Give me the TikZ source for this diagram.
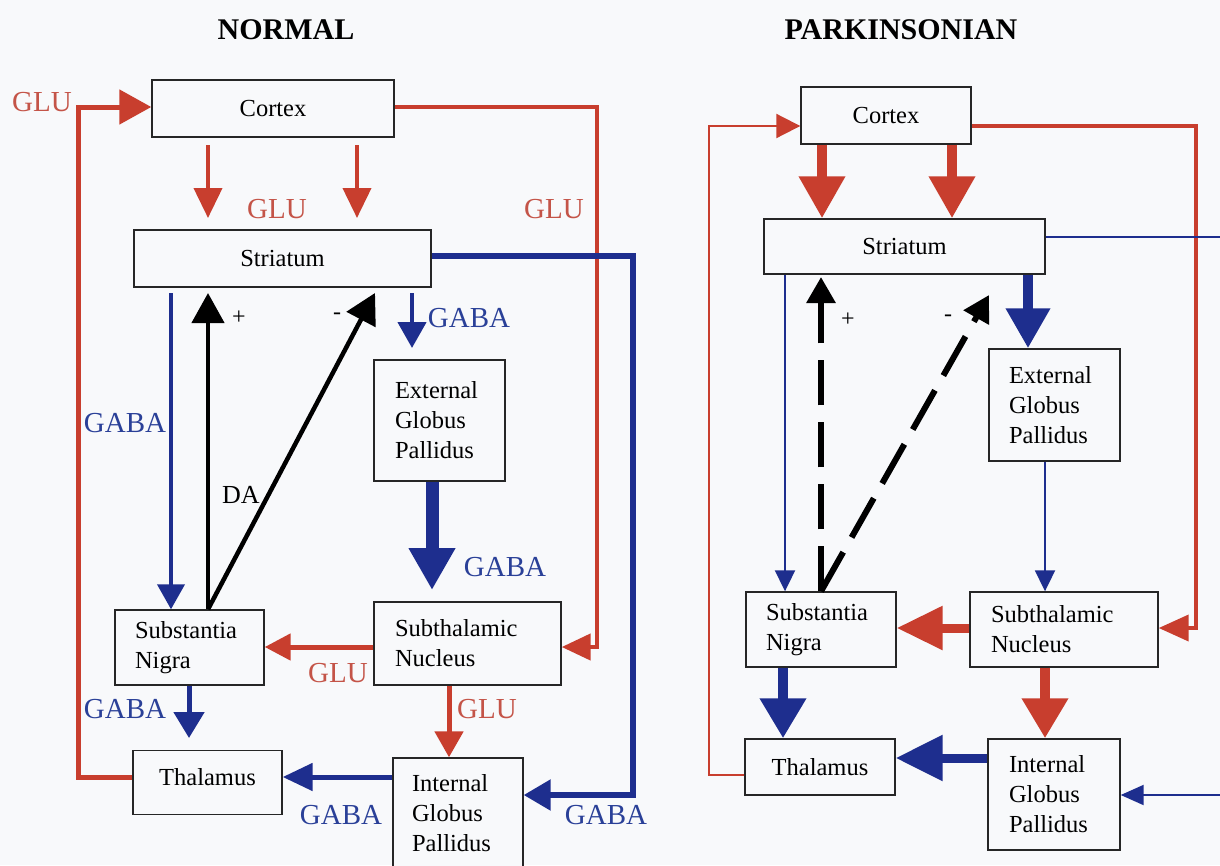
\documentclass[tikz,border=0pt]{standalone}
\usepackage{fontspec}
\setmainfont{Liberation Serif}
\usetikzlibrary{arrows.meta}
\definecolor{bg}{RGB}{248,249,251}
\definecolor{rd}{RGB}{200,62,46}
\definecolor{rdt}{RGB}{196,84,72}
\definecolor{bl}{RGB}{30,46,142}
\definecolor{blt}{RGB}{42,64,152}
\begin{document}
\begin{tikzpicture}[x=1pt,y=-1pt,
  box/.style={draw=black!85, line width=1.4pt, fill=bg, inner sep=0pt, font=\fontsize{24.5}{30}\selectfont},
  mbox/.style={box, align=left},
  lab/.style={font=\fontsize{29}{30}\selectfont, inner sep=0pt},
  rlab/.style={lab, text=rdt},
  blab/.style={lab, text=blt},
  klab/.style={font=\fontsize{24}{26}\selectfont, inner sep=0pt},
  ttl/.style={font=\fontsize{30}{32}\selectfont\bfseries, inner sep=0pt},
  redL/.style={draw=rd, line width=#1},
  bluL/.style={draw=bl, line width=#1},
  blkL/.style={draw=black, line width=#1},
]
\fill[bg] (0,0) rectangle (1220,865);
\useasboundingbox (0,0) rectangle (1220,865);

% ---------------- titles
\node[ttl] (tN) at (286,30) {NORMAL};
\node[ttl] (tP) at (901,30) {PARKINSONIAN};

% ---------------- NORMAL boxes
\node[box, minimum width=242pt, minimum height=57pt] (cortexL) at (273,108.5) {Cortex};
\node[box, minimum width=297pt, minimum height=57pt] (striatL) at (282.5,258.5) {Striatum};
\node[mbox, inner xsep=21pt, text width=89pt, minimum height=121pt] (egpL) at (439.5,420.5) {External\\Globus\\Pallidus};
\node[mbox, inner xsep=21pt, text width=145pt, minimum height=83pt] (stnL) at (467.5,643.5) {Subthalamic\\Nucleus};
\node[mbox, inner xsep=20pt, text width=109pt, minimum height=75pt] (snL) at (189.5,647.5) {Substantia\\Nigra};
\node[box, minimum width=149pt, minimum height=64pt, text depth=11pt] (thalL) at (207.5,782.5) {Thalamus};
\node[mbox, inner xsep=19pt, text width=92pt, minimum height=110pt] (igpL) at (458,813) {Internal\\Globus\\Pallidus};

% ---------------- NORMAL connectors
\coordinate (L1) at (78,777);
\coordinate (L2) at (78,107);
\draw[redL=5pt, -{Triangle[length=32pt,width=34pt]}] (thalL.west |- L1) -- (L1) -- (L2) -- (cortexL.west |- L2);
\coordinate (L3) at (208,145);
\coordinate (L4) at (208,218);
\coordinate (L5) at (357,145);
\coordinate (L6) at (357,218);
\draw[redL=4pt, -{Triangle[length=30pt,width=28pt]}] (L3) -- (L4);
\draw[redL=4pt, -{Triangle[length=30pt,width=28pt]}] (L5) -- (L6);
\coordinate (L7) at (597,107);
\coordinate (L8) at (597,647);
\draw[redL=4.5pt, -{Triangle[length=29pt,width=26pt]}] (cortexL.east |- L7) -- (L7) -- (L8) -- (stnL.east |- L8);
\coordinate (L9) at (633,256);
\coordinate (L10) at (633,795);
\draw[bluL=5.5pt, -{Triangle[length=27pt,width=30pt]}] (striatL.east |- L9) -- (L9) -- (L10) -- (igpL.east |- L10);
\coordinate (L11) at (171,293);
\draw[bluL=4pt, -{Triangle[length=25pt,width=27pt]}] (L11) -- (snL.north -| L11);
\coordinate (L12) at (208,293);
\coordinate (L13) at (375,293);
\draw[blkL=4.5pt, -{Triangle[length=30pt,width=32pt]}] (snL.north -| L12) -- (L12);
\draw[blkL=4.5pt, -{Triangle[length=30pt,width=32pt]}] (snL.north -| L12) -- (L13);
\coordinate (L14) at (412,293);
\coordinate (L15) at (412,348);
\draw[bluL=4.5pt, -{Triangle[length=26pt,width=28pt]}] (L14) -- (L15);
\coordinate (L16) at (432,590);
\draw[bluL=13pt, -{Triangle[length=42pt,width=44pt]}] (egpL.south -| L16) -- (L16);
\coordinate (L17) at (300,647);
\draw[redL=5pt, -{Triangle[length=26pt,width=26pt]}] (stnL.west |- L17) -- (snL.east |- L17);
\coordinate (L18) at (189,738);
\draw[bluL=5pt, -{Triangle[length=26pt,width=30pt]}] (snL.south -| L18) -- (L18);
\coordinate (L20) at (449,756);
\draw[redL=5pt, -{Triangle[length=26pt,width=28pt]}] (stnL.south -| L20) -- (igpL.north -| L20);
\coordinate (L21) at (300,777);
\draw[bluL=5pt, -{Triangle[length=30pt,width=27pt]}] (igpL.west |- L21) -- (thalL.east |- L21);

% ---------------- NORMAL labels
\node[rlab] (g1) at (42,102) {GLU};
\node[rlab] (g2) at (277,209) {GLU};
\node[rlab] (g3) at (554,209) {GLU};
\node[blab] (b1) at (469,318) {GABA};
\node[blab] (b2) at (125,423) {GABA};
\node[klab, font=\fontsize{26}{28}\selectfont] (da) at (241,495) {DA};
\node[klab] (p1) at (239,318) {+};
\node[klab] (m1) at (337,316) {-};
\node[blab] (b3) at (505,567) {GABA};
\node[rlab] (g4) at (338,673) {GLU};
\node[blab] (b4) at (125,709) {GABA};
\node[rlab] (g5) at (487,709) {GLU};
\node[blab] (b5) at (341,815) {GABA};
\node[blab] (b6) at (606,815) {GABA};

% ---------------- PARKINSONIAN boxes
\node[box, minimum width=170pt, minimum height=57pt] (cortexR) at (886,115.5) {Cortex};
\node[box, minimum width=281pt, minimum height=55pt] (striatR) at (904.5,246.5) {Striatum};
\node[mbox, inner xsep=20pt, text width=91pt, minimum height=112pt] (egpR) at (1054.5,405) {External\\Globus\\Pallidus};
\node[mbox, inner xsep=20pt, text width=110pt, minimum height=75pt] (snR) at (821,629.5) {Substantia\\Nigra};
\node[mbox, inner xsep=21pt, text width=146pt, minimum height=75pt] (stnR) at (1064,629.5) {Subthalamic\\Nucleus};
\node[box, minimum width=150pt, minimum height=56pt] (thalR) at (820,767) {Thalamus};
\node[mbox, inner xsep=21pt, text width=90pt, minimum height=111pt] (igpR) at (1054,794.5) {Internal\\Globus\\Pallidus};

% ---------------- PARKINSONIAN connectors
\coordinate (R1) at (709,775);
\coordinate (R2) at (709,126);
\draw[redL=2pt, -{Triangle[length=24pt,width=24pt]}] (thalR.west |- R1) -- (R1) -- (R2) -- (cortexR.west |- R2);
\coordinate (R3) at (1196,126);
\coordinate (R4) at (1196,628);
\draw[redL=4pt, -{Triangle[length=30pt,width=26pt]}] (cortexR.east |- R3) -- (R3) -- (R4) -- (stnR.east |- R4);
\coordinate (R5) at (822,0);
\coordinate (R6) at (952,0);
\draw[redL=10pt, -{Triangle[length=42pt,width=44pt]}] (cortexR.south -| R5) -- (striatR.north -| R5);
\draw[redL=10pt, -{Triangle[length=42pt,width=44pt]}] (cortexR.south -| R6) -- (striatR.north -| R6);
\coordinate (R7) at (1230,237);
\draw[bluL=2pt] (striatR.east |- R7) -- (R7);
\coordinate (R8) at (785,0);
\draw[bluL=2pt, -{Triangle[length=21pt,width=20pt]}] (striatR.south -| R8) -- (snR.north -| R8);
\coordinate (R9) at (821,277);
\coordinate (R10) at (989,295);
\draw[blkL=6pt, dash pattern=on 45pt off 17pt, -{Triangle[length=26pt,width=28pt]}] (snR.north -| R9) -- (R9);
\draw[blkL=6pt, dash pattern=on 45pt off 17pt, -{Triangle[length=26pt,width=28pt]}] (snR.north -| R9) -- (R10);
\coordinate (R11) at (1028,0);
\draw[bluL=10pt, -{Triangle[length=40pt,width=42pt]}] (striatR.south -| R11) -- (egpR.north -| R11);
\coordinate (R12) at (1045,0);
\draw[bluL=2pt, -{Triangle[length=21pt,width=20pt]}] (egpR.south -| R12) -- (stnR.north -| R12);
\coordinate (R13) at (0,628);
\draw[redL=9pt, -{Triangle[length=46pt,width=42pt]}] (stnR.west |- R13) -- (snR.east |- R13);
\coordinate (R14) at (783,0);
\draw[bluL=10pt, -{Triangle[length=40pt,width=44pt]}] (snR.south -| R14) -- (thalR.north -| R14);
\coordinate (R15) at (1045,0);
\draw[redL=10pt, -{Triangle[length=40pt,width=44pt]}] (stnR.south -| R15) -- (igpR.north -| R15);
\coordinate (R16) at (0,758);
\draw[bluL=9pt, -{Triangle[length=47pt,width=44pt]}] (igpR.west |- R16) -- (thalR.east |- R16);
\coordinate (R17) at (1230,795);
\draw[bluL=2pt, -{Triangle[length=23pt,width=20pt]}] (R17) -- (igpR.east |- R17);

% ---------------- PARKINSONIAN labels
\node[klab] (p2) at (848,320) {+};
\node[klab] (m2) at (948,318) {-};
\end{tikzpicture}
\end{document}
